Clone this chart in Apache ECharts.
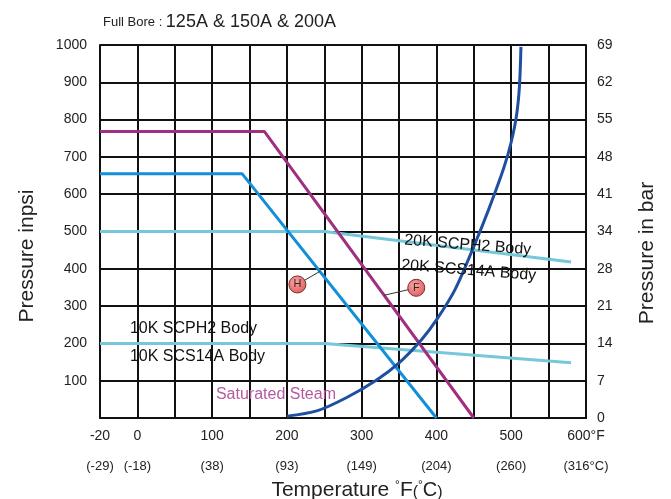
<!DOCTYPE html>
<html><head><meta charset="utf-8">
<script src="https://cdn.jsdelivr.net/npm/echarts@6/dist/echarts.min.js"></script>
<style>html,body{margin:0;padding:0;background:#fff}#c{width:671px;height:499px}</style>
</head><body><div id="c"></div>
<script>
// ---- data (temperature in °F, pressure in psi) ----
const tickF = [-20, 0, 100, 200, 300, 400, 500, 600];
const tickFLabels = ['-20', '0', '100', '200', '300', '400', '500', '600°F'];
const tickC = ['(-29)', '(-18)', '(38)', '(93)', '(149)', '(204)', '(260)', '(316°C)'];
const barLabels = ['0', '7', '14', '21', '28', '34', '41', '48', '55', '62', '69'];

const fT = [-20, 170, 450];
const fP = [768, 768, 0];
const hT = [-20, 140, 400];
const hP = [655, 655, 0];
const k20T = [-20, 250, 580];
const k20P = [500, 500, 418];
const k10T = [-20, 250, 580];
const k10P = [200, 200, 148];
const steamT = [200, 240, 280, 320, 350, 380, 400, 425, 450, 470, 490, 500, 507, 511, 513];
const steamP = [5, 19, 55, 102, 148, 210, 263, 345, 460, 560, 670, 740, 810, 890, 995];

const markerNames = ['H', 'F'];
const markerT = [214, 373];
const markerP = [358, 349];
const leaderEndT = [244, 330];
const leaderEndP = [393, 329];

const annoText = ['20K SCPH2 Body', '20K SCS14A Body', '10K SCPH2 Body', '10K SCS14A Body'];
const annoT = [357, 353, -4, -4];
const annoP = [477, 410, 241, 164];
const annoRot = [-4.5, -4.5, 0, 0];
const steamLabelT = 105, steamLabelP = 64;

// x axis: first column is -20..0 °F, then 50 °F per column
function ix(t) { return t < 0 ? (t + 20) / 20 : 1 + t / 50; }
function pts(T, P) { return T.map((t, i) => [ix(t), P[i]]); }

const chart = echarts.init(document.getElementById('c'));
const FONT = '"Liberation Sans", Arial, sans-serif';
const TXT = '#222';
const gridLine = { show: true, lineStyle: { color: '#111', width: 2 } };

const series = [
  { name: 'k10', type: 'line', data: pts(k10T, k10P), showSymbol: false, lineStyle: { color: '#74C8D8', width: 3 }, z: 3 },
  { name: 'k20', type: 'line', data: pts(k20T, k20P), showSymbol: false, lineStyle: { color: '#74C8D8', width: 3 }, z: 3 },
  { name: 'H', type: 'line', data: pts(hT, hP), showSymbol: false, lineStyle: { color: '#128FD6', width: 3 }, z: 4 },
  { name: 'F', type: 'line', data: pts(fT, fP), showSymbol: false, lineStyle: { color: '#A0307F', width: 3 }, z: 4 },
  { name: 'steam', type: 'line', data: pts(steamT, steamP), smooth: 0.3, showSymbol: false, lineStyle: { color: '#1E4FA0', width: 3 }, z: 5 }
];
markerNames.forEach((n, i) => {
  series.push({ type: 'line', data: [[ix(markerT[i]), markerP[i]], [ix(leaderEndT[i]), leaderEndP[i]]],
    showSymbol: false, lineStyle: { color: '#333', width: 1 }, z: 6 });
});
series.push({
  type: 'scatter', z: 7, symbol: 'circle', symbolSize: 17,
  itemStyle: { opacity: 1, color: new echarts.graphic.RadialGradient(0.4, 0.35, 0.7, [{ offset: 0, color: '#F7A5A2' }, { offset: 1, color: '#DE5E5C' }]), borderColor: '#7A2B2B', borderWidth: 1 },
  label: { show: true, position: 'inside', formatter: p => markerNames[p.dataIndex], color: '#3a2020', fontSize: 11, fontFamily: FONT },
  data: markerT.map((t, i) => [ix(t), markerP[i]])
});
series.push({
  type: 'scatter', z: 8, symbolSize: 0, silent: true, itemStyle: { opacity: 1 },
  data: annoT.map((t, i) => ({ value: [ix(t), annoP[i]], label: { rotate: annoRot[i] } })),
  label: { show: true, position: 'right', distance: 0, formatter: p => annoText[p.dataIndex], color: '#111', fontSize: 16, fontFamily: FONT }
});
series.push({
  type: 'scatter', z: 8, symbolSize: 0, silent: true, itemStyle: { opacity: 1 },
  data: [[ix(steamLabelT), steamLabelP]],
  label: { show: true, position: 'right', distance: 0, formatter: 'Saturated Steam', color: '#B45AA0', fontSize: 16, fontFamily: FONT }
});

chart.setOption({
  animation: false,
  backgroundColor: '#fff',
  title: {
    left: 98, top: 8,
    text: '{a|Full Bore : }{b|125A & 150A & 200A}',
    textStyle: { fontWeight: 'normal', rich: { a: { fontSize: 13, color: TXT, fontFamily: FONT, fontWeight: 'normal' }, b: { fontSize: 18, color: TXT, fontFamily: FONT, fontWeight: 'normal' } } }
  },
  grid: { left: 100, right: 85, top: 45, bottom: 81 },
  xAxis: {
    type: 'value', min: 0, max: 13, interval: 1,
    axisLine: { show: true, lineStyle: { color: '#111', width: 2 } },
    axisTick: { show: false },
    splitLine: gridLine,
    axisLabel: {
      margin: 3, showMinLabel: true, showMaxLabel: true,
      formatter: v => {
        const i = tickF.findIndex(t => Math.abs(ix(t) - v) < 1e-6);
        return i < 0 ? '' : '{f|' + tickFLabels[i] + '}\n{c|' + tickC[i] + '}';
      },
      rich: {
        f: { fontSize: 14, color: TXT, fontFamily: FONT, lineHeight: 30 },
        c: { fontSize: 13, color: TXT, fontFamily: FONT, lineHeight: 30 }
      }
    }
  },
  yAxis: [{
    type: 'value', min: 0, max: 1000, interval: 100,
    axisLine: { show: true, lineStyle: { color: '#111', width: 2 } },
    axisTick: { show: false },
    splitLine: gridLine,
    axisLabel: { margin: 13, fontSize: 14, color: TXT, fontFamily: FONT, formatter: v => v === 0 ? '' : String(v) }
  }, {
    type: 'value', min: 0, max: 1000, interval: 100, position: 'right',
    axisLine: { show: true, lineStyle: { color: '#111', width: 2 } },
    axisTick: { show: false }, splitLine: { show: false },
    axisLabel: { margin: 11, fontSize: 14, color: TXT, fontFamily: FONT, formatter: v => barLabels[Math.round(v / 100)] }
  }],
  graphic: [
    { type: 'text', x: 27, y: 256, rotation: Math.PI / 2, style: { text: 'Pressure inpsi', fontSize: 21, fill: TXT, fontFamily: FONT, align: 'center', verticalAlign: 'middle' } },
    { type: 'text', x: 647, y: 253, rotation: Math.PI / 2, style: { text: 'Pressure in bar', fontSize: 21, fill: TXT, fontFamily: FONT, align: 'center', verticalAlign: 'middle' } },
    { type: 'text', x: 357, y: 490, style: { align: 'center', verticalAlign: 'middle', fontFamily: FONT,
      text: '{t|Temperature }{d|°}{t|F}{p|(}{d|°}{u|C}{p|)}',
      rich: { t: { fontSize: 21, fill: TXT, fontFamily: FONT, verticalAlign: 'bottom' }, d: { fontSize: 12, fill: TXT, fontFamily: FONT, verticalAlign: 'top' },
              p: { fontSize: 16, fill: TXT, fontFamily: FONT, verticalAlign: 'bottom' }, u: { fontSize: 20, fill: TXT, fontFamily: FONT, verticalAlign: 'bottom' } } } }
  ],
  series: series
});
</script></body></html>
